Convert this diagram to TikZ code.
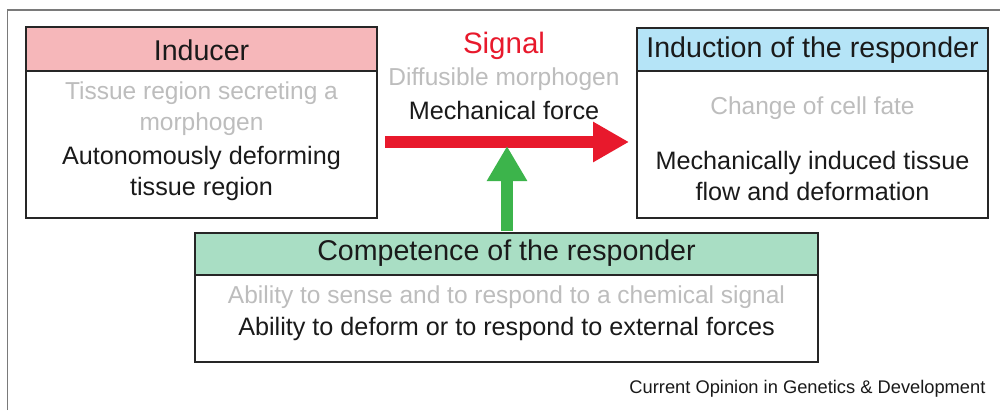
\documentclass[tikz,border=0pt]{standalone}
\usepackage{fontspec}
\setmainfont{Liberation Sans}
\usetikzlibrary{arrows.meta}
\definecolor{pinkhead}{HTML}{F6B7BA}
\definecolor{bluehead}{HTML}{B5E4F7}
\definecolor{greenhead}{HTML}{A9DEC4}
\definecolor{greytext}{HTML}{BDBDBD}
\definecolor{darktext}{HTML}{1A1A1A}
\definecolor{sigred}{HTML}{E8192C}
\definecolor{arrgreen}{HTML}{3CB44B}
\definecolor{framegrey}{HTML}{7A7A7A}
\tikzset{
  boxline/.style={draw=black!85, line width=1.6pt},
  headtxt/.style={font=\fontsize{28.6}{31}\selectfont, text=darktext},
  bodytxt/.style={font=\fontsize{25.2}{31}\selectfont, text=darktext, align=center},
  greytxt/.style={font=\fontsize{24.5}{31}\selectfont, text=greytext, align=center},
  foottxt/.style={font=\fontsize{18.3}{20}\selectfont, text=darktext},
}
\begin{document}
\begin{tikzpicture}[x=1pt,y=-1pt]
\useasboundingbox (0,0) rectangle (1000,410);
\fill[white] (0,0) rectangle (1000,410);
% outer frame (top and left edges visible)
\draw[framegrey, line width=1.8pt] (7.5,410) -- (7.5,10) -- (1000,10);

% Inducer
\fill[pinkhead] (26,27) rectangle (377,71);
\draw[boxline] (26,27) rectangle (377,218);
\draw[boxline] (26,71) -- (377,71);
\node[headtxt] (indh) at (201.5,50) {Inducer};
\node[greytxt] (indg) at (201.5,109) {Tissue region secreting a\\morphogen};
\node[bodytxt] (indb) at (201.5,173) {Autonomously deforming\\tissue region};
\coordinate (indE) at (385,142);

% Induction of the responder
\fill[bluehead] (637,28) rectangle (988,71);
\draw[boxline] (637,28) rectangle (988,218);
\draw[boxline] (637,71) -- (988,71);
\node[headtxt] (resh) at (812.5,50) {Induction of the responder};
\node[greytxt] (resg) at (812.5,108) {Change of cell fate};
\node[bodytxt] (resb) at (812.5,176) {Mechanically induced tissue\\flow and deformation};
\coordinate (resW) at (629,142);

% Competence of the responder
\fill[greenhead] (195,233) rectangle (818,275);
\draw[boxline] (195,233) rectangle (818,362);
\draw[boxline] (195,275) -- (818,275);
\node[headtxt] (comh) at (506.5,253) {Competence of the responder};
\node[greytxt] (comg) at (506.5,297) {Ability to sense and to respond to a chemical signal};
\node[bodytxt] (comb) at (506.5,329) {Ability to deform or to respond to external forces};
\coordinate (comN) at (507,231);
\coordinate (arrT) at (507,146);

% Signal labels
\node[font=\fontsize{29.5}{31}\selectfont, text=sigred] (sig) at (504,46) {Signal};
\node[greytxt] (sigg) at (504,79) {Diffusible morphogen};
\node[bodytxt] (sigb) at (504,110) {Mechanical force};

% arrows
\draw[sigred, line width=12.5pt, -{Triangle[width=38pt,length=36pt]}] (indE) -- (resW);
\draw[arrgreen, line width=12pt, -{Triangle[width=38pt,length=35pt]}] (comN) -- (arrT);

% footer
\node[foottxt, anchor=east] (foot) at (989,389) {Current Opinion in Genetics \& Development};
\end{tikzpicture}
\end{document}
